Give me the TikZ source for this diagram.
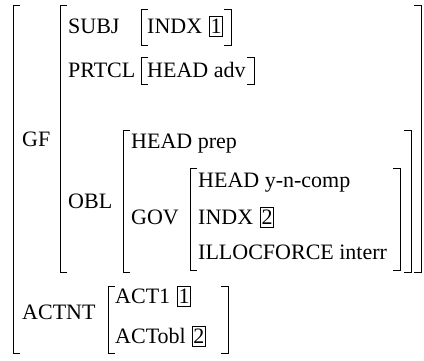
\documentclass[tikz,border=0pt]{standalone}
\usepackage{fontspec}
\setmainfont{Liberation Serif}
\newfontfamily\avmfont{Liberation Serif}
\usetikzlibrary{positioning}

\begin{document}
\begin{tikzpicture}[x=1pt,y=-1pt,
      font=\avmfont\fontsize{22}{26}\selectfont,
      every node/.style={inner sep=0pt,anchor=base west},
      brk/.style={line width=.7pt},
      tag/.style={draw,line width=.6pt,inner xsep=1pt,inner ysep=.5pt,
        text height=16pt,text depth=3pt}]
  \useasboundingbox (0,0) rectangle (424,360);
  % outer matrix
  \draw[brk] (20,5) -| (13,353) -- ++(7,0);
  \node (gf) at (22,146) {GF};
  \node (actnt) at (22,319) {ACTNT};
  % value of GF
  \draw[brk] (67,5) -| (60,272) -- ++(7,0);
  \draw[brk] (414,5) -| (421,272) -- ++(-7,0);
  \node (subj) at (68,33) {SUBJ};
  \node (prtcl) at (68,77) {PRTCL};
  \node (obl) at (68,208) {OBL};
  % SUBJ and PRTCL
  \draw[brk] (148,9) -| (141,45) -- ++(7,0);
  \draw[brk] (224,9) -| (231,45) -- ++(-7,0);
  \node (sindx) at (147,33) {INDX};
  \node[tag,base right=7pt of sindx] (tagA) {1};
  \draw[brk] (148,57) -| (141,84) -- ++(7,0);
  \draw[brk] (247,57) -| (254,84) -- ++(-7,0);
  \node (padv) at (147,77) {HEAD adv};
  % value of OBL
  \draw[brk] (130,130) -| (123,272) -- ++(7,0);
  \draw[brk] (404,130) -| (411,272) -- ++(-7,0);
  \node (ohead) at (131,148) {HEAD prep};
  \node (gov) at (131,224) {GOV};
  \draw[brk] (197,168) -| (190,270) -- ++(7,0);
  \draw[brk] (393,168) -| (400,270) -- ++(-7,0);
  \node (ghead) at (198,187) {HEAD y-n-comp};
  \node (gindx) at (198,224) {INDX};
  \node[tag,base right=7pt of gindx] (tagB) {2};
  \node (gillo) at (198,259) {ILLOCFORCE interr};
  % value of ACTNT
  \draw[brk] (115,286) -| (108,353) -- ++(7,0);
  \draw[brk] (221,286) -| (228,353) -- ++(-7,0);
  \node (actA) at (115,303) {ACT1};
  \node[tag,base right=7pt of actA] (tagC) {1};
  \node (actB) at (115,343) {ACTobl};
  \node[tag,base right=6pt of actB] (tagD) {2};
\end{tikzpicture}
\end{document}
